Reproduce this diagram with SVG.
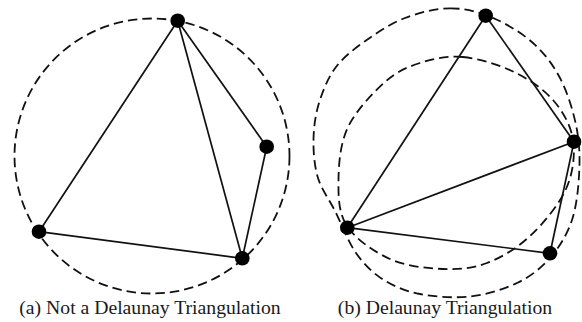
<svg xmlns="http://www.w3.org/2000/svg" width="582" height="322" viewBox="0 0 582 322">
<style>
.circ{fill:none;stroke:#111;stroke-width:1.8;stroke-dasharray:9.5 5}
.edge{stroke:#111;stroke-width:1.7;fill:none}
.pt{fill:#000}
.lbl{font-family:"Liberation Serif","Times New Roman",serif;font-size:19.7px;fill:#1a1a1a;text-anchor:middle}
</style>
<rect width="582" height="322" fill="#fff"/>
<g id="circles">
<circle id="circle-a" class="circ" cx="152" cy="156" r="137.5"/>
<path id="circle-b-outer" class="circ" d="M450,8.3 C464.5,8.2 478.2,11.7 492,17.5 C505.8,23.3 521.7,32.9 533,43 C544.3,53.1 552.8,64.3 560,78 C567.2,91.7 572.8,109.7 576,125 C579.2,140.3 580,154.2 579.3,170 C578.6,185.8 576.9,205.3 572,220 C567.1,234.7 559.2,247.5 550,258 C540.8,268.5 530.3,276.6 517,283 C503.7,289.4 486.2,294.7 470,296.5 C453.8,298.3 434.5,296.8 420,294 C405.5,291.2 393.7,286.3 383,279.5 C372.3,272.7 364,264.4 356,253 C348,241.6 341.3,223.5 335,211 C328.7,198.5 321.6,189.8 318,178 C314.4,166.2 313.3,152.5 313.5,140 C313.7,127.5 315.3,115.2 319,103 C322.8,90.8 328,77.5 336,67 C343.9,56.5 355.2,48.2 366.7,40 C378.2,31.8 391.1,23.3 405,18 C418.9,12.7 435.5,8.4 450,8.3 Z"/>
<path id="circle-b-inner" class="circ" d="M463,57 C478.5,58.4 498,64.3 513,71.5 C528,78.7 543,88.6 553,100 C563,111.4 570.8,125.2 573,140 C575.2,154.8 573.2,173 566,189 C558.8,205 543.2,223.7 530,236 C516.8,248.3 501.5,257.5 487,263 C472.5,268.5 459.2,269.7 443,269 C426.8,268.3 406,266.2 390,259 C374,251.8 355.6,239.2 347,226 C338.4,212.8 338.3,196.5 338.5,180 C338.7,163.5 340.3,143.3 348,127 C355.8,110.7 373,92.7 385,82 C397,71.3 407,67.2 420,63 C433,58.8 447.5,55.6 463,57 Z"/>
</g>
<g id="connectors">
<line class="edge" x1="177.7" y1="20.7" x2="39" y2="231.7"/>
<line class="edge" x1="177.7" y1="20.7" x2="242.3" y2="258.3"/>
<line class="edge" x1="177.7" y1="20.7" x2="266.7" y2="146.7"/>
<line class="edge" x1="266.7" y1="146.7" x2="242.3" y2="258.3"/>
<line class="edge" x1="39" y1="231.7" x2="242.3" y2="258.3"/>
<line class="edge" x1="485.7" y1="15.7" x2="347.3" y2="227.7"/>
<line class="edge" x1="485.7" y1="15.7" x2="574" y2="141.7"/>
<line class="edge" x1="574" y1="141.7" x2="347.3" y2="227.7"/>
<line class="edge" x1="574" y1="141.7" x2="550" y2="253.3"/>
<line class="edge" x1="347.3" y1="227.7" x2="550" y2="253.3"/>
</g>
<g id="a-top"><circle class="pt" cx="177.7" cy="20.7" r="7.3"/></g>
<g id="a-right"><circle class="pt" cx="266.7" cy="146.7" r="7.3"/></g>
<g id="a-bottom-left"><circle class="pt" cx="39" cy="231.7" r="7.3"/></g>
<g id="a-bottom-right"><circle class="pt" cx="242.3" cy="258.3" r="7.3"/></g>
<g id="b-top"><circle class="pt" cx="485.7" cy="15.7" r="7.3"/></g>
<g id="b-right"><circle class="pt" cx="574" cy="141.7" r="7.3"/></g>
<g id="b-bottom-left"><circle class="pt" cx="347.3" cy="227.7" r="7.3"/></g>
<g id="b-bottom-right"><circle class="pt" cx="550" cy="253.3" r="7.3"/></g>
<g id="labels">
<text class="lbl" x="150" y="314">(a) Not a Delaunay Triangulation</text>
<text class="lbl" x="445" y="314">(b) Delaunay Triangulation</text>
</g>
</svg>
